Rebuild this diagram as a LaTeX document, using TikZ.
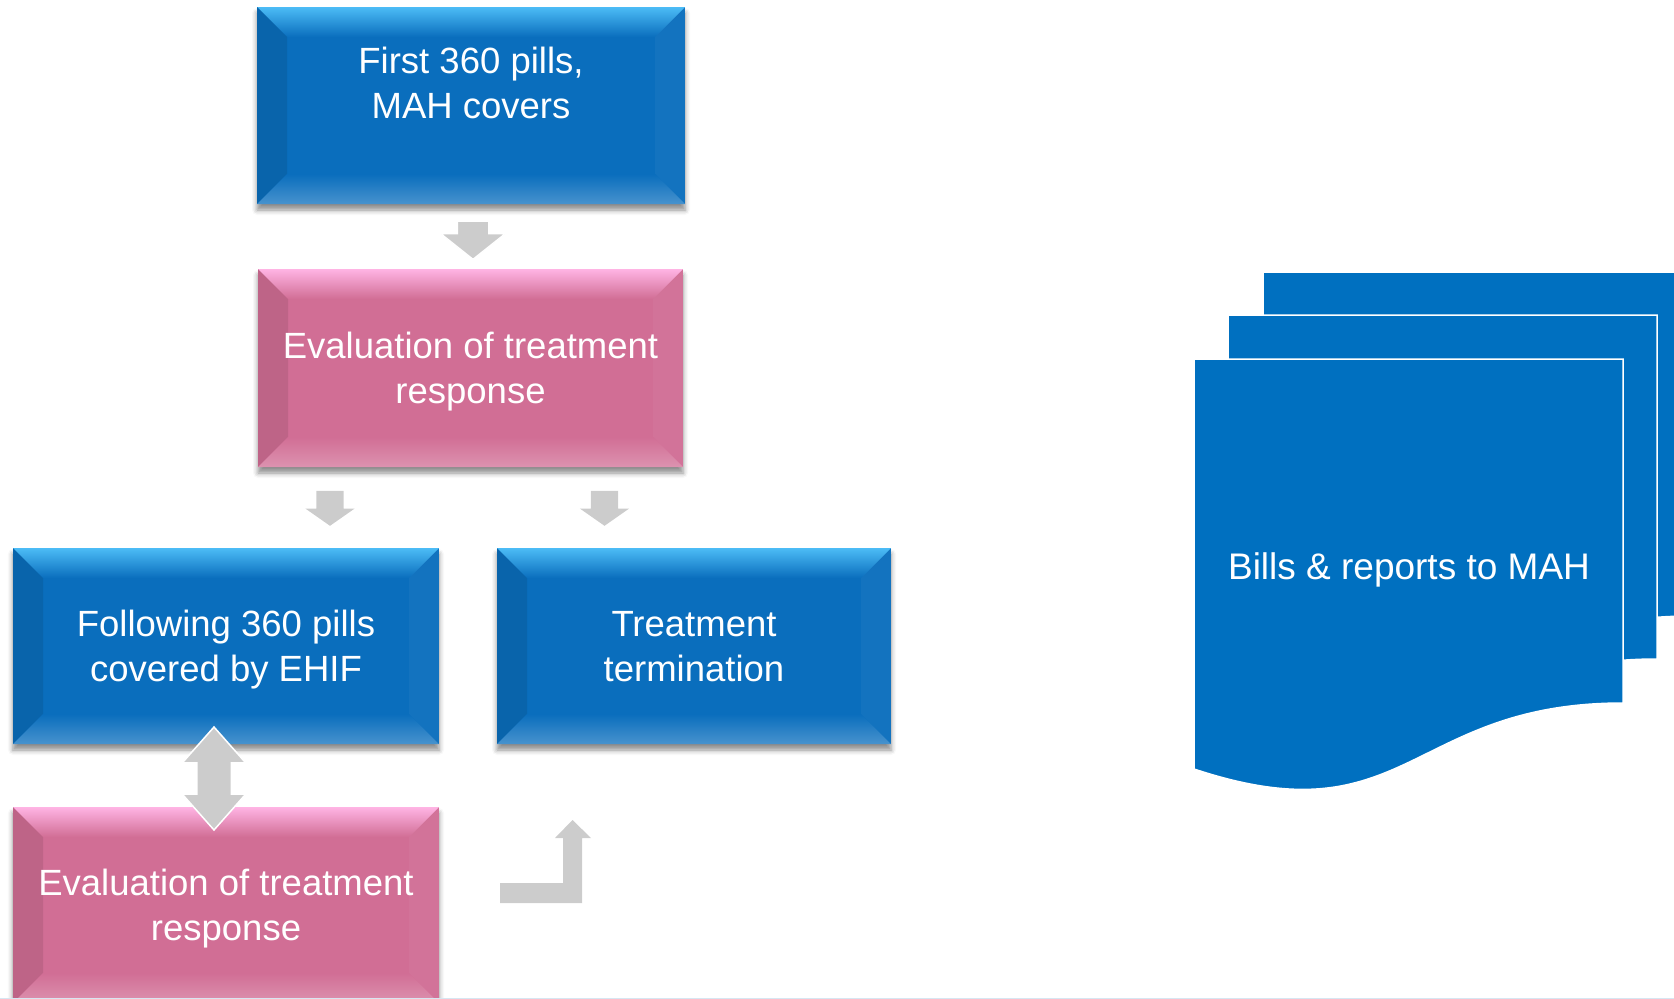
\documentclass[tikz,border=0pt]{standalone}
\usepackage{fontspec}
\setmainfont{Liberation Sans}
\usepackage{tikz}
\usetikzlibrary{shapes.arrows, shadows.blur, calc}

\definecolor{boxblue}{HTML}{0A6EBD}
\definecolor{boxbluelight}{HTML}{4CBCF6}
\definecolor{boxpink}{HTML}{D16E95}
\definecolor{boxpinklight}{HTML}{FFB4E4}
\definecolor{arrowgray}{HTML}{CCCCCC}
\definecolor{docblue}{HTML}{0070C0}
\definecolor{edgeblue}{HTML}{D6E6F2}

\begin{document}
\begin{tikzpicture}[x=1pt, y=-1pt,
        % beveled boxes: #1 face colour, #2 highlight on the top edge
        bevel/.style 2 args={fill=#1, inner sep=0pt, text=white, align=center,
            font=\fontsize{36.5}{45}\selectfont, text depth=0pt,
            blur shadow={shadow xshift=0pt, shadow yshift=-6pt, shadow blur radius=5pt, shadow opacity=45},
            path picture={
                \coordinate (nw) at (path picture bounding box.north west);
                \coordinate (ne) at (path picture bounding box.north east);
                \coordinate (sw) at (path picture bounding box.south west);
                \coordinate (se) at (path picture bounding box.south east);
                \shade[top color=#2, bottom color=#1] (nw) -- (ne) -- ([shift={(-30pt,-30pt)}]ne) -- ([shift={(30pt,-30pt)}]nw) -- cycle;
                \fill[#1!80!black, opacity=.45] (nw) -- ([shift={(30pt,-30pt)}]nw) -- ([shift={(30pt,30pt)}]sw) -- (sw) -- cycle;
                \fill[white, opacity=.04] (ne) -- (se) -- ([shift={(-30pt,30pt)}]se) -- ([shift={(-30pt,-30pt)}]ne) -- cycle;
                \shade[top color=#1, bottom color=#1!75!white] (sw) -- (se) -- ([shift={(-30pt,30pt)}]se) -- ([shift={(30pt,30pt)}]sw) -- cycle;
            }},
        bluebox/.style={bevel={boxblue}{boxbluelight}},
        pinkbox/.style={bevel={boxpink}{boxpinklight}},
        downarrow/.style={single arrow, rotate=-90, fill=arrowgray, inner xsep=0pt},
        updownarrow/.style={double arrow, rotate=90, fill=arrowgray, draw=white, line width=1.5pt, inner xsep=0pt},
        docpage/.style={fill=docblue, draw=white, line width=1.5pt},
        doctext/.style={text=white, font=\fontsize{37}{45}\selectfont}
    ]
    \useasboundingbox (0,0) rectangle (1674,999);
    \clip (0,0) rectangle (1674,999);

    % --- Flow boxes ---
    \node[bluebox, minimum width=428pt, minimum height=197pt] (first) at (471,105.5) {First 360 pills,\\MAH covers\\\mbox{}};
    \node[pinkbox, minimum width=425pt, minimum height=198pt] (evalA) at (470.5,368) {Evaluation of treatment\\response};
    \node[bluebox, minimum width=426pt, minimum height=196pt] (ehif) at (226,646) {Following 360 pills\\covered by EHIF};
    \node[bluebox, minimum width=394pt, minimum height=196pt] (stop) at (694,646) {Treatment\\termination};
    \node[pinkbox, minimum width=426pt, minimum height=196pt] (evalB) at (226,905) {Evaluation of treatment\\response};

    % --- Block arrows ---
    \node[downarrow, draw=white, line width=1.2pt, minimum height=38pt, inner ysep=15pt, single arrow head extend=16.5pt, single arrow tip angle=103] (a1) at (473,234) {};
    \node[downarrow, minimum height=35pt, inner ysep=13.5pt, single arrow head extend=11pt, single arrow tip angle=110] (a2) at (330,503.5) {};
    \node[downarrow, minimum height=35pt, inner ysep=13.5pt, single arrow head extend=11pt, single arrow tip angle=110] (a3) at (604.5,503.5) {};
    \node[updownarrow, minimum height=103pt, inner ysep=16.5pt, double arrow head extend=14.5pt, double arrow tip angle=83] (a4) at (214,778.5) {};

    % bent arrow back up
    \fill[arrowgray] (500,883) -- (563,883) -- (563,838) -- (555,838) -- (572.5,820)
        -- (591,838) -- (582,838) -- (582,903) -- (500,903) -- cycle;

    % --- Stacked documents ---
    \foreach \dx/\dy in {69/-87, 34/-44, 0/0} {
        \filldraw[docpage, shift={(\dx,\dy)}] (1194,359) -- (1623,359) -- (1623,703)
            .. controls (1408,703) and (1408,840) .. (1194,769) -- cycle;
    }
    \node[doctext] (bills) at (1409,570) {Bills \& reports to MAH};

    % slide edge
    \draw[edgeblue, line width=1.5pt] (0,998.5) -- (1674,998.5);
\end{tikzpicture}
\end{document}
